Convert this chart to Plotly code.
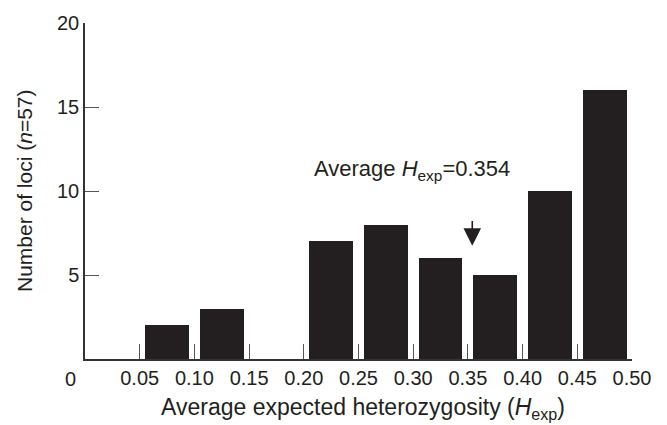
import plotly.graph_objects as go

# ---- data ----
bin_left = [0.05, 0.10, 0.15, 0.20, 0.25, 0.30, 0.35, 0.40, 0.45]
counts = [2, 3, 0, 7, 8, 6, 5, 10, 16]
bin_width = 0.05
x_tick_vals = [0.05, 0.10, 0.15, 0.20, 0.25, 0.30, 0.35, 0.40, 0.45, 0.50]
x_tick_text = ["0.05", "0.10", "0.15", "0.20", "0.25", "0.30", "0.35", "0.40", "0.45", "0.50"]
y_tick_vals = [5, 10, 15, 20]
mean_hexp = 0.354

centers = [b + bin_width / 2 for b in bin_left]

FONT = "Liberation Sans, Arial, Helvetica, sans-serif"
INK = "#231f20"

fig = go.Figure()
fig.add_trace(go.Bar(
    x=centers, y=counts, width=0.04,
    marker=dict(color=INK, line=dict(width=0)),
    showlegend=False, hoverinfo="skip",
))

fig.update_layout(
    width=667, height=425,
    margin=dict(l=85, r=35, t=15, b=66),
    paper_bgcolor="white", plot_bgcolor="white",
    font=dict(family=FONT, color=INK, size=20),
    bargap=0,
    xaxis=dict(
        range=[0, 0.5], showgrid=False, zeroline=False,
        showline=True, linecolor="#333", linewidth=1.5,
        ticks="inside", ticklen=15, tickwidth=1.3, tickcolor="#555",
        tickvals=x_tick_vals, ticktext=x_tick_text,
        tickfont=dict(size=20, family=FONT, color=INK),
    ),
    yaxis=dict(
        range=[0, 20], showgrid=False, zeroline=False,
        showline=True, linecolor="#333", linewidth=1.5,
        ticks="inside", ticklen=14, tickwidth=1.3, tickcolor="#555",
        tickvals=y_tick_vals, ticktext=[str(v) for v in y_tick_vals],
        tickfont=dict(size=20, family=FONT, color=INK),
    ),
)

# origin label
fig.add_annotation(x=0, y=0, xref="x", yref="y", text="0", showarrow=False,
                   xanchor="center", yanchor="middle", xshift=-15, yshift=-20,
                   font=dict(size=20, family=FONT, color=INK))

# axis titles
fig.add_annotation(x=(363 - 85) / 547, y=-(410 - 359) / 344, xref="paper", yref="paper",
                   text="Average expected heterozygosity (<i>H</i><sub>exp</sub>)",
                   showarrow=False, xanchor="center", yanchor="middle",
                   font=dict(size=23, family=FONT, color=INK))
fig.add_annotation(x=-(85 - 24) / 547, y=(359 - 187) / 344, xref="paper", yref="paper",
                   text="Number of loci (<i>n</i>=57)", textangle=-90,
                   showarrow=False, xanchor="center", yanchor="middle",
                   font=dict(size=21, family=FONT, color=INK))

# average label and arrow
fig.add_annotation(x=0.299, y=11.28, xref="x", yref="y",
                   text="Average <i>H</i><sub>exp</sub>=0.354",
                   showarrow=False, xanchor="center", yanchor="middle",
                   font=dict(size=22, family=FONT, color=INK))
fig.add_annotation(x=mean_hexp, y=6.74, xref="x", yref="y",
                   ax=mean_hexp, ay=8.3, axref="x", ayref="y",
                   text="", showarrow=True, arrowhead=2, arrowsize=2.2,
                   arrowwidth=1.6, arrowcolor=INK, standoff=0)

fig.write_html("out.html")
